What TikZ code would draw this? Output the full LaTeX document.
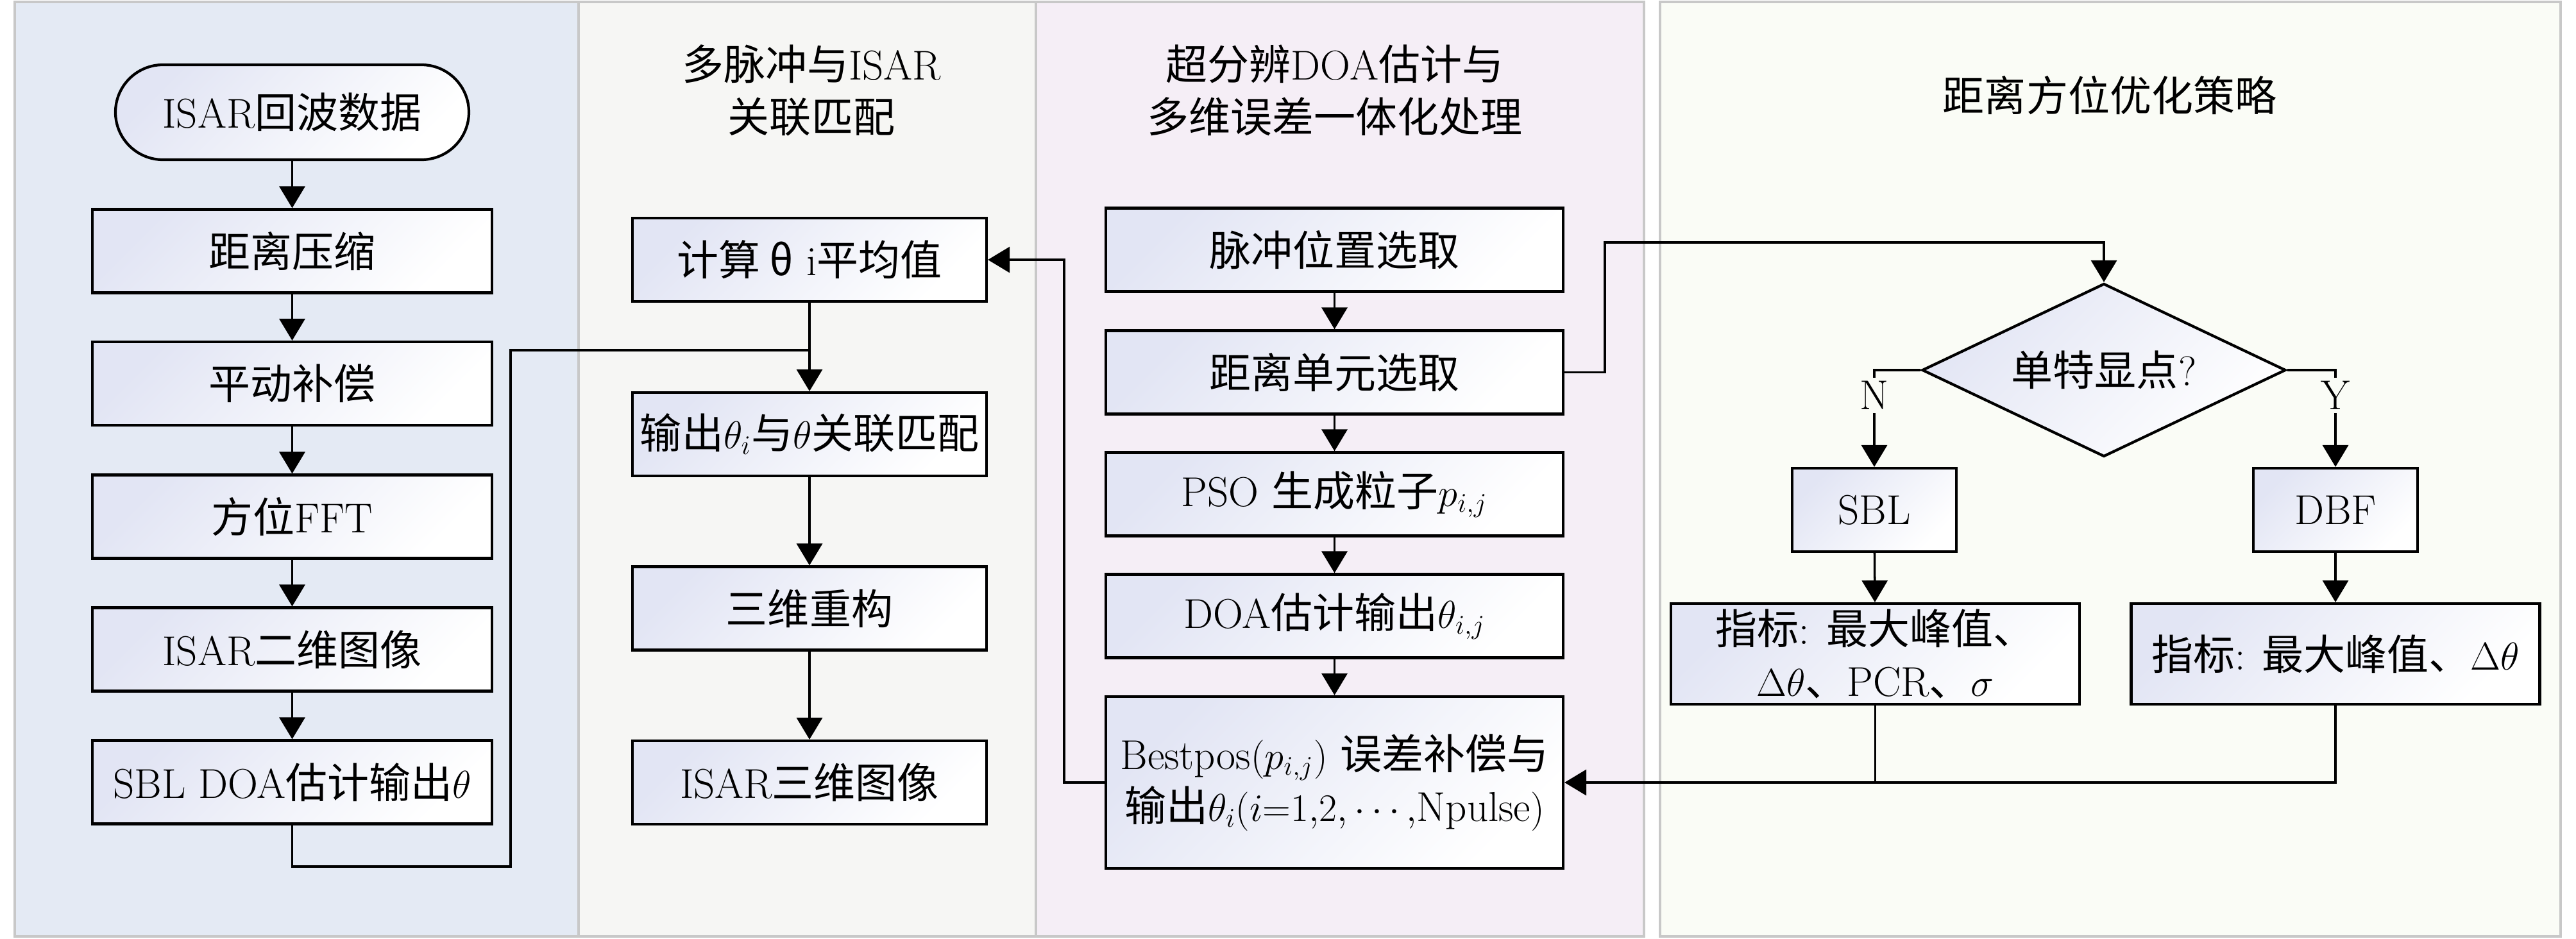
\documentclass[tikz,border=0pt]{standalone}
\usepackage{fontspec}
\usepackage{tikz}
\usetikzlibrary{arrows.meta,shapes.geometric}

\newfontfamily\cjk{Noto Sans CJK SC}
\newcommand{\zhs}[1]{{\cjk #1}}

\definecolor{pnlA}{RGB}{228,234,244}
\definecolor{pnlB}{RGB}{246,246,244}
\definecolor{pnlC}{RGB}{245,238,246}
\definecolor{pnlD}{RGB}{250,252,246}
\definecolor{boxshade}{RGB}{226,229,244}
\definecolor{pnlline}{RGB}{200,200,200}

\tikzset{
  panel/.style={draw=pnlline, line width=1.1pt},
  box/.style={draw, line width=1.2pt, top color=boxshade, bottom color=white, shading angle=45,
    minimum height=1.3cm, inner sep=1pt, align=center},
  term/.style={box, rounded corners=0.74cm, minimum width=5.51cm, minimum height=1.48cm},
  decide/.style={diamond, aspect=2.1, draw, line width=1.2pt, top color=boxshade, bottom color=white,
    shading angle=45, minimum width=5.67cm, minimum height=2.7cm, inner sep=0pt},
  conn/.style={line width=1pt},
  arr/.style={conn, -{Triangle[length=3.4mm, width=4mm]}},
  lab/.style={fill=pnlD, inner sep=1.5pt},
  ptitle/.style={align=center}
}

\begin{document}
\begin{tikzpicture}[font=\fontsize{18.5}{23.2}\selectfont]
              \fill[white] (0, 0) rectangle (40.16, -14.63);
              \useasboundingbox (0, 0) rectangle (40.16, -14.63);
              % panels
              \draw[panel, fill=pnlA] (0.23, -0.03) rectangle (9.02, -14.6);
              \draw[panel, fill=pnlB] (9.02, -0.03) rectangle (16.15, -14.6);
              \draw[panel, fill=pnlC] (16.15, -0.03) rectangle (25.63, -14.6);
              \draw[panel, fill=pnlD] (25.88, -0.03) rectangle (39.92, -14.6);
              \node (t2) at (12.65, -1.41) [ptitle] {\zhs{多脉冲与}ISAR\\\zhs{关联匹配}};
              \node (t3) at (20.81, -1.41) [ptitle] {\zhs{超分辨}DOA\zhs{估计与}\\\zhs{多维误差一体化处理}};
              \node (t4) at (32.89, -1.49) [ptitle] {\zhs{距离方位优化策略}};
              % ISAR imaging
              \node (echo) at (4.555, -1.75) [term] {ISAR\zhs{回波数据}};
              \node (rc) at (4.555, -3.915) [box, minimum width=6.23cm] {\zhs{距离压缩}};
              \node (mc) at (4.555, -5.98) [box, minimum width=6.23cm] {\zhs{平动补偿}};
              \node (fft) at (4.555, -8.055) [box, minimum width=6.23cm] {\zhs{方位}FFT};
              \node (img2) at (4.555, -10.125) [box, minimum width=6.23cm] {ISAR\zhs{二维图像}};
              \node (sbldoa) at (4.555, -12.195) [box, minimum width=6.23cm] {SBL DOA\zhs{估计输出}$\theta$};
              \draw[arr] (echo) -- (rc);
              \draw[arr] (rc) -- (mc);
              \draw[arr] (mc) -- (fft);
              \draw[arr] (fft) -- (img2);
              \draw[arr] (img2) -- (sbldoa);
              % matching
              \node (mean) at (12.62, -4.05) [box, minimum width=5.52cm] {\zhs{计算 θ} i\zhs{平均值}};
              \node (match) at (12.62, -6.77) [box, minimum width=5.52cm] {\zhs{输出}$\theta_i$\zhs{与}$\theta$\zhs{关联匹配}};
              \node (recon) at (12.62, -9.485) [box, minimum width=5.52cm] {\zhs{三维重构}};
              \node (img3) at (12.62, -12.2) [box, minimum width=5.52cm] {ISAR\zhs{三维图像}};
              \draw[arr] (mean) -- (match);
              \draw[arr] (match) -- (recon);
              \draw[arr] (recon) -- (img3);
              \coordinate (join) at (12.62, -5.46);
              \coordinate (bendS) at (7.96, -13.51);
              \draw[conn] (sbldoa.south) |- (bendS) |- (join);
              % DOA and error processing
              \node (pulse) at (20.805, -3.895) [box, minimum width=7.13cm] {\zhs{脉冲位置选取}};
              \node (cell) at (20.805, -5.805) [box, minimum width=7.13cm] {\zhs{距离单元选取}};
              \node (pso) at (20.805, -7.705) [box, minimum width=7.13cm] {PSO \zhs{生成粒子}$p_{i,j}$};
              \node (doa) at (20.805, -9.605) [box, minimum width=7.13cm] {DOA\zhs{估计输出}$\theta_{i,j}$};
              \node (best) at (20.805, -12.2) [box, minimum width=7.13cm, minimum height=2.68cm]
                {Bestpos$(p_{i,j})$ \zhs{误差补偿与}\\\zhs{输出}$\theta_i(i{=}1{,}2{,}\cdots{,}\mathrm{Npulse})$};
              \draw[arr] (pulse) -- (cell);
              \draw[arr] (cell) -- (pso);
              \draw[arr] (pso) -- (doa);
              \draw[arr] (doa) -- (best);
              \coordinate (bendL) at (16.59, -4.05);
              \draw[arr] (best.west) -| (bendL) -- (mean.east);
              % strategy
              \node (dia) at (32.80, -5.77) [decide] {\zhs{单特显点}?};
              \node (sbl) at (29.22, -7.95) [box, minimum width=2.56cm] {SBL};
              \node (dbf) at (36.41, -7.95) [box, minimum width=2.56cm] {DBF};
              \node (idx1) at (29.235, -10.195) [box, minimum width=6.37cm, minimum height=1.57cm]
                {\zhs{指标}: \zhs{最大峰值、}\\$\Delta\theta$\zhs{、}PCR\zhs{、}$\sigma$};
              \node (idx2) at (36.41, -10.195) [box, minimum width=6.37cm, minimum height=1.57cm]
                {\zhs{指标}: \zhs{最大峰值、}$\Delta\theta$};
              \coordinate (bendR) at (25.02, -3.78);
              \draw[arr] (cell.east) -| (bendR) -| (dia.north);
              \draw[arr] (dia.west) -| node[lab, pos=0.63] {N} (sbl.north);
              \draw[arr] (dia.east) -| node[lab, pos=0.63] {Y} (dbf.north);
              \draw[arr] (sbl) -- (idx1);
              \draw[arr] (dbf) -- (idx2);
              \draw[conn] (idx1.south) -- (idx1.south |- best.east);
              \draw[arr] (idx2.south) |- (best.east);
            \end{tikzpicture}
\end{document}
